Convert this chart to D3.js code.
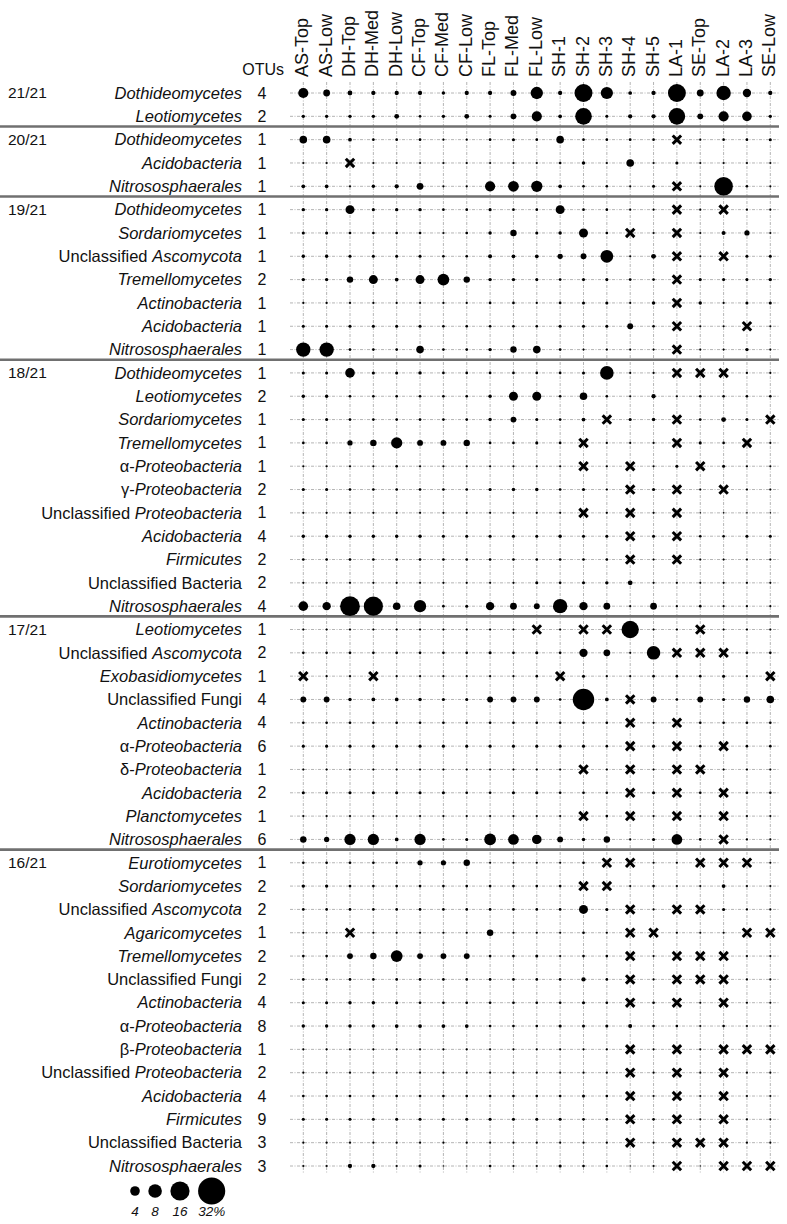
<!DOCTYPE html>
<html><head><meta charset="utf-8">
<script src="https://cdn.jsdelivr.net/npm/d3@7"></script>
<style>body{margin:0;background:#fff}svg{display:block;font-family:"Liberation Sans",Arial,sans-serif}</style>
</head><body><svg id="c" width="787" height="1224"></svg>
<script>
const X = null; // cross: taxon absent
const sites = ["AS-Top","AS-Low","DH-Top","DH-Med","DH-Low","CF-Top","CF-Med","CF-Low","FL-Top","FL-Med","FL-Low","SH-1","SH-2","SH-3","SH-4","SH-5","LA-1","SE-Top","LA-2","LA-3","SE-Low"];
const groupLabels = ["21/21","20/21","19/21","18/21","17/21","16/21"];

const taxa21 = ["*Dothideomycetes*","*Leotiomycetes*"];
const otus21 = [4,2];
const values21 = [
 [4.5,2,1,0.8,0.8,0.8,0.5,0.8,0.8,1.5,6.6,0.8,14,6.5,0.6,0.8,14,2,9,3,0.8],
 [0.5,0.5,0.5,0.5,1,0.3,0.5,1,0.4,1.5,4.5,0.6,12,0.4,0.8,0.8,12,1.5,4.5,4,0.5]
];

const taxa20 = ["*Dothideomycetes*","*Acidobacteria*","*Nitrososphaerales*"];
const otus20 = [1,1,1];
const values20 = [
 [2.5,2.5,0.6,0.3,0.3,0.3,0.2,0.2,0.3,0.4,0.3,2.5,0.3,0.3,0.3,0.3,X,0.2,0.3,0.3,0.4],
 [0.2,0.2,X,0.2,0.2,0.2,0.2,0.2,0.2,0.2,0.2,0.3,0.5,0.2,2.5,0.2,0.4,0.2,0.2,0.2,0.2],
 [0.6,0.6,0.2,0.5,0.8,2,0.2,0.2,4.5,5,5.5,0.6,0.3,0.3,0.2,0.4,X,0.2,15,0.3,0.2]
];

const taxa19 = ["*Dothideomycetes*","*Sordariomycetes*","Unclassified *Ascomycota*","*Tremellomycetes*","*Actinobacteria*","*Acidobacteria*","*Nitrososphaerales*"];
const otus19 = [1,1,1,2,1,1,1];
const values19 = [
 [0.5,0.5,3.5,0.4,0.5,0.5,0.3,0.3,0.4,0.3,0.3,3.5,0.3,0.3,0.2,0.2,X,0.2,X,0.2,0.2],
 [0.4,0.4,0.3,0.3,0.3,0.3,0.2,0.3,0.5,1.8,0.4,0.5,3.5,0.3,X,0.2,X,0.2,0.7,1.2,0.2],
 [0.5,0.5,0.4,0.4,0.4,0.4,0.3,0.3,0.7,0.6,0.6,1.2,1.5,7,0.2,1,X,0.2,X,0.4,0.4],
 [0.5,0.5,1.8,3.5,0.6,3.5,6,1.8,0.5,0.5,0.4,0.3,0.4,0.4,0.3,0.3,X,0.4,0.4,0.4,0.5],
 [0.2,0.2,0.2,0.2,0.2,0.2,0.2,0.2,0.3,0.3,0.2,0.3,0.4,0.4,0.2,0.5,X,0.5,0.2,0.4,0.4],
 [0.4,0.4,0.4,0.4,0.4,0.4,0.3,0.3,0.3,0.3,0.3,0.4,0.4,0.4,1.5,0.3,X,0.2,0.2,X,0.2],
 [9,9,0.3,0.3,0.3,2.5,0.3,0.3,0.5,1.8,2.5,0.3,0.2,0.2,0.2,0.2,X,0.2,0.2,0.5,0.2]
];

const taxa18 = ["*Dothideomycetes*","*Leotiomycetes*","*Sordariomycetes*","*Tremellomycetes*","α-*Proteobacteria*","γ-*Proteobacteria*","Unclassified *Proteobacteria*","*Acidobacteria*","*Firmicutes*","Unclassified Bacteria","*Nitrososphaerales*"];
const otus18 = [1,2,1,1,1,2,1,4,2,2,4];
const values18 = [
 [0.4,0.4,4,0.4,0.4,0.5,0.3,0.3,0.3,0.3,0.3,0.3,0.4,8,0.2,0.2,X,X,X,0.2,0.2],
 [0.5,0.5,0.3,0.3,0.3,0.3,0.3,0.3,0.5,3.5,3.5,0.3,2.5,0.3,0.2,0.8,0.2,0.3,0.3,0.3,0.3],
 [0.4,0.4,0.3,0.3,0.3,0.3,0.3,0.3,0.5,1.5,0.4,0.3,0.6,X,0.4,0.5,X,0.3,1,0.4,X],
 [0.3,0.3,1.2,1.8,5.5,1.5,1.5,1.8,0.3,0.3,0.4,0.3,X,0.2,0.2,0.2,X,0.4,0.3,X,0.2],
 [0.2,0.2,0.2,0.2,0.3,0.2,0.2,0.2,0.2,0.2,0.2,0.2,X,0.2,X,0.2,0.4,X,0.4,0.2,0.2],
 [0.4,0.4,0.3,0.3,0.3,0.3,0.3,0.3,0.4,0.5,0.5,0.3,0.4,0.2,X,0.4,X,0.2,X,0.2,0.2],
 [0.2,0.2,0.2,0.2,0.2,0.2,0.2,0.2,0.2,0.2,0.2,0.2,X,0.2,X,0.2,X,0.1,0.1,0.1,0.1],
 [0.5,0.5,0.5,0.5,0.5,0.5,0.4,0.4,0.4,0.4,0.4,0.5,0.4,0.4,X,0.4,X,0.3,0.3,0.4,0.4],
 [0.3,0.3,0.3,0.3,0.3,0.3,0.3,0.3,0.3,0.3,0.3,0.3,0.3,0.3,X,0.2,X,0.2,0.2,0.2,0.2],
 [0.2,0.2,0.2,0.2,0.2,0.2,0.2,0.2,0.2,0.2,0.4,0.3,0.4,0.5,1,0.2,0.2,0.2,0.2,0.2,0.2],
 [4,3,17,16,2.5,6.5,0.3,0.4,3,2,1.5,9,3,2,0.2,2,0.2,0.3,0.2,0.2,0.2]
];

const taxa17 = ["*Leotiomycetes*","Unclassified *Ascomycota*","*Exobasidiomycetes*","Unclassified Fungi","*Actinobacteria*","α-*Proteobacteria*","δ-*Proteobacteria*","*Acidobacteria*","*Planctomycetes*","*Nitrososphaerales*"];
const otus17 = [1,2,1,4,4,6,1,2,1,6];
const values17 = [
 [0.2,0.2,0.2,0.2,0.2,0.2,0.2,0.2,0.2,0.2,X,0.2,X,X,13,0.2,0.2,X,0.2,0.2,0.2],
 [0.3,0.3,0.3,0.3,0.3,0.3,0.3,0.3,0.4,0.3,0.4,0.3,3,2,0.2,8,X,X,X,0.3,0.3],
 [X,0.2,0.2,X,0.2,0.2,0.2,0.2,0.2,0.2,0.3,X,0.4,0.2,0.2,0.3,0.3,0.3,0.4,0.2,X],
 [1.5,1.5,0.5,0.6,0.6,0.5,0.4,0.4,1.5,1.5,1.5,0.3,20,0.6,X,1.5,0.3,1.5,0.4,1.8,2.5],
 [0.3,0.3,0.3,0.3,0.3,0.3,0.3,0.3,0.3,0.3,0.3,0.3,0.3,0.3,X,0.2,X,0.3,0.3,0.3,0.3],
 [0.4,0.4,0.4,0.4,0.4,0.4,0.4,0.4,0.4,0.4,0.4,0.4,0.4,0.3,X,0.4,X,0.3,X,0.3,0.3],
 [0.2,0.2,0.2,0.2,0.2,0.2,0.2,0.2,0.2,0.2,0.2,0.2,X,0.2,X,0.2,X,X,0.2,0.2,0.2],
 [0.4,0.4,0.4,0.4,0.4,0.4,0.4,0.3,0.3,0.4,0.4,0.3,0.3,0.3,X,0.4,X,0.3,X,0.3,0.3],
 [0.2,0.2,0.2,0.2,0.2,0.2,0.2,0.2,0.2,0.2,0.2,0.2,X,0.3,X,0.2,X,0.2,X,0.2,0.2],
 [1.8,1.2,5.5,5.5,0.6,5.5,0.3,0.4,6,5,4,1.5,0.5,1.8,0.2,0.4,5,0.3,X,0.2,0.2]
];

const taxa16 = ["*Eurotiomycetes*","*Sordariomycetes*","Unclassified *Ascomycota*","*Agaricomycetes*","*Tremellomycetes*","Unclassified Fungi","*Actinobacteria*","α-*Proteobacteria*","β-*Proteobacteria*","Unclassified *Proteobacteria*","*Acidobacteria*","*Firmicutes*","Unclassified Bacteria","*Nitrososphaerales*"];
const otus16 = [1,2,2,1,2,2,4,8,1,2,4,9,3,3];
const values16 = [
 [0.3,0.3,0.3,0.3,0.3,1.2,1.2,1.8,0.2,0.2,0.2,0.2,0.3,X,X,0.2,0.2,X,X,X,0.2],
 [0.5,0.5,0.3,0.3,0.3,0.3,0.3,0.3,0.3,0.3,0.3,0.3,X,X,0.2,0.3,0.2,0.2,0.6,0.2,0.2],
 [0.3,0.3,0.3,0.3,0.3,0.3,0.3,0.3,0.3,0.3,0.3,0.3,3.5,0.4,X,0.2,X,X,0.4,0.2,0.2],
 [0.2,0.2,X,0.2,0.2,0.2,0.2,0.2,1.8,0.2,0.2,0.2,0.3,0.2,X,X,0.2,0.2,0.2,X,X],
 [0.3,0.3,1.5,1.8,6,1.5,1.5,1.5,0.3,0.3,0.4,0.2,0.3,0.3,X,0.2,X,X,X,0.2,0.2],
 [0.3,0.3,0.3,0.3,0.3,0.3,0.3,0.3,0.3,0.3,0.3,0.3,0.8,0.3,X,0.2,X,X,X,0.2,0.2],
 [0.4,0.4,0.5,0.5,0.4,0.3,0.3,0.3,0.3,0.3,0.3,0.3,0.4,0.3,X,0.3,X,0.2,X,0.2,0.2],
 [0.5,0.5,0.5,0.5,0.6,0.6,0.6,0.6,0.3,0.3,0.3,0.4,0.4,0.4,0.7,0.3,0.3,0.2,0.3,0.2,0.2],
 [0.2,0.2,0.2,0.2,0.2,0.2,0.2,0.2,0.2,0.2,0.2,0.2,0.2,0.2,X,0.2,X,0.2,X,X,X],
 [0.2,0.2,0.2,0.2,0.2,0.2,0.2,0.2,0.2,0.2,0.2,0.2,0.2,0.2,X,0.2,X,0.2,X,0.2,0.2],
 [0.3,0.3,0.3,0.3,0.3,0.3,0.3,0.3,0.3,0.3,0.3,0.3,0.4,0.3,X,0.2,X,0.2,X,0.2,0.2],
 [0.4,0.4,0.4,0.4,0.4,0.4,0.4,0.4,0.4,0.4,0.4,0.4,0.3,0.3,X,0.3,X,0.2,X,0.2,0.2],
 [0.2,0.2,0.2,0.2,0.2,0.2,0.2,0.2,0.2,0.2,0.2,0.2,0.2,0.2,X,0.2,X,X,X,0.2,0.2],
 [0.2,0.2,0.8,0.8,0.2,0.4,0.1,0.1,0.3,0.2,0.2,0.4,0.3,0.3,0.1,0.2,X,0.1,X,X,X]
];

const legendValues = [4,8,16,32];
const legendLabels = ["4","8","16","32%"];

// ---- build table ----
const groups = [
 {label:groupLabels[0], taxa:taxa21, otus:otus21, values:values21},
 {label:groupLabels[1], taxa:taxa20, otus:otus20, values:values20},
 {label:groupLabels[2], taxa:taxa19, otus:otus19, values:values19},
 {label:groupLabels[3], taxa:taxa18, otus:otus18, values:values18},
 {label:groupLabels[4], taxa:taxa17, otus:otus17, values:values17},
 {label:groupLabels[5], taxa:taxa16, otus:otus16, values:values16}
];
const rows = [];
groups.forEach((g,gi)=>g.taxa.forEach((t,ti)=>rows.push({g:gi, first:ti===0, label:g.label, taxon:t, otu:g.otus[ti], values:g.values[ti]})));
rows.forEach((r,i)=>r.idx=i);

const svg = d3.select("#c");
const x = d3.scalePoint().domain(sites).range([303.3, 770.3]);
const y = d3.scalePoint().domain(d3.range(rows.length)).range([93, 1166]);
const r = d3.scaleSqrt().domain([0,32]).range([0, 2.4*Math.sqrt(32)]);
const step = y.step();

// grid
const grid = svg.append("g").attr("stroke","#b4b4b4").attr("stroke-width",1).attr("stroke-dasharray","3,1.5,1,1.5");
grid.selectAll("line.h").data(rows).join("line").attr("class","h")
 .attr("x1",290).attr("x2",779).attr("y1",d=>y(d.idx)).attr("y2",d=>y(d.idx));
grid.selectAll("line.v").data(sites).join("line").attr("class","v")
 .attr("x1",d=>x(d)).attr("x2",d=>x(d)).attr("y1",82).attr("y2",1173);

// separators
const seps = rows.filter(d=>d.first && d.idx>0);
svg.append("g").selectAll("line").data(seps).join("line")
 .attr("x1",0).attr("x2",779)
 .attr("y1",d=>y(d.idx)-step/2-1.5).attr("y2",d=>y(d.idx)-step/2-1.5)
 .attr("stroke","#707070").attr("stroke-width",2.6);

// header
svg.append("g").selectAll("text").data(sites).join("text")
 .attr("transform",d=>`translate(${x(d)+5},77) rotate(-90)`)
 .attr("font-size",18).attr("fill","#111").text(d=>d);
svg.append("text").attr("x",284).attr("y",75).attr("text-anchor","end").attr("font-size",16).attr("fill","#111").text("OTUs");

// row labels
const lab = svg.append("g").attr("font-size",16.5).attr("fill","#111");
rows.forEach(d=>{
  const t = lab.append("text").attr("x",242).attr("y",y(d.idx)).attr("dy","0.35em").attr("text-anchor","end");
  d.taxon.split(/(\*[^*]+\*)/).filter(s=>s.length).forEach(s=>{
    if (s.startsWith("*")) t.append("tspan").attr("font-style","italic").text(s.slice(1,-1));
    else t.append("tspan").text(s);
  });
});
svg.append("g").attr("font-size",16).attr("fill","#111").selectAll("text").data(rows).join("text")
 .attr("x",262).attr("y",d=>y(d.idx)).attr("dy","0.35em").attr("text-anchor","middle").text(d=>d.otu);
svg.append("g").attr("font-size",15.5).attr("fill","#111").selectAll("text").data(rows.filter(d=>d.first)).join("text")
 .attr("x",8).attr("y",d=>y(d.idx)).attr("dy","0.35em").text(d=>d.label);

// cells
const cells = rows.flatMap(d=>d.values.map((v,ci)=>({row:d.idx, site:sites[ci], v})));
const mk = svg.append("g");
mk.selectAll("circle").data(cells.filter(c=>c.v!==null)).join("circle")
 .attr("cx",c=>x(c.site)).attr("cy",c=>y(c.row)).attr("r",c=>r(c.v)).attr("fill","#000");
const cs = 4.2;
mk.selectAll("path").data(cells.filter(c=>c.v===null)).join("path")
 .attr("transform",c=>`translate(${x(c.site)},${y(c.row)})`)
 .attr("d",`M${-cs},${-cs}L${cs},${cs}M${-cs},${cs}L${cs},${-cs}`)
 .attr("stroke","#000").attr("stroke-width",3);

// legend
let lx = 135 - r(legendValues[0]);
const leg = legendValues.map((v,i)=>{ const cx = lx + r(v); lx = cx + r(v) + 8.5; return {v, cx, label:legendLabels[i]}; });
const lg = svg.append("g");
lg.selectAll("circle").data(leg).join("circle").attr("cx",d=>d.cx).attr("cy",1191).attr("r",d=>r(d.v)).attr("fill","#000");
lg.selectAll("text").data(leg).join("text").attr("x",d=>d.cx).attr("y",1216).attr("text-anchor","middle")
 .attr("font-size",13.5).attr("font-style","italic").attr("fill","#111").text(d=>d.label);
</script></body></html>
